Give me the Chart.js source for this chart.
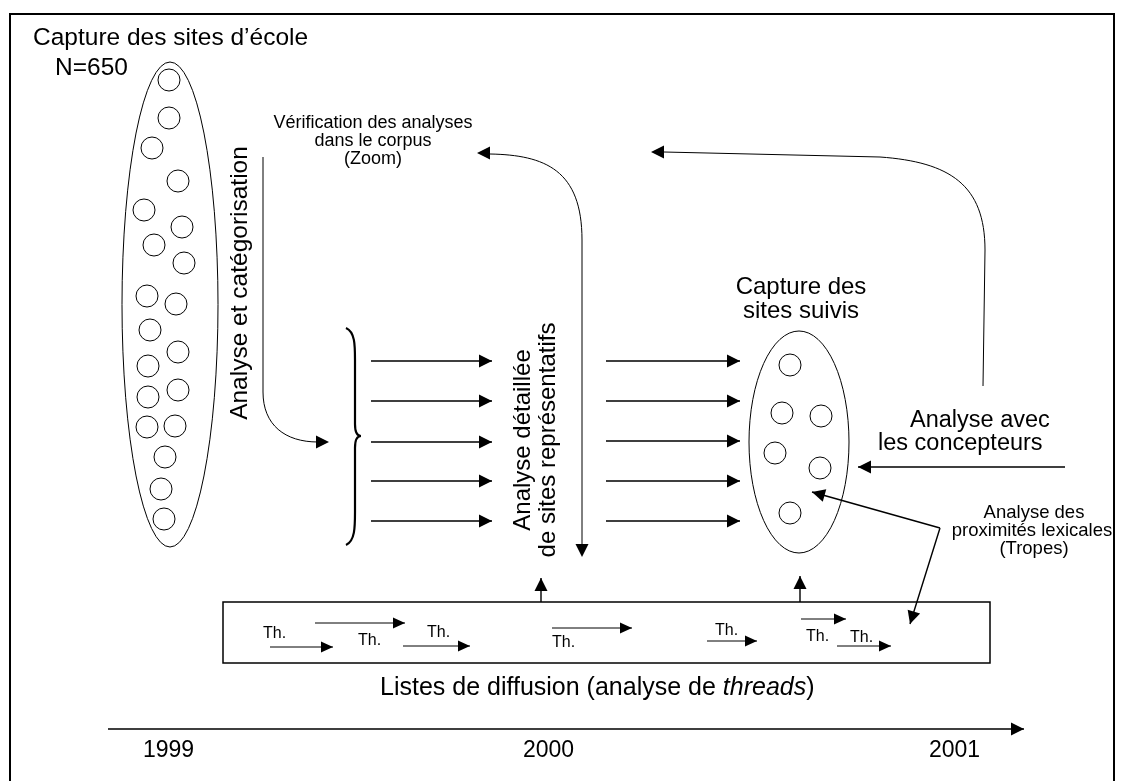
<!DOCTYPE html>
<html>
<head>
<meta charset="utf-8">
<script src="https://cdn.jsdelivr.net/npm/chart.js"></script>
<style>
  html, body { margin: 0; padding: 0; background: #fff; }
  #wrap { width: 1123px; height: 781px; }
</style>
</head>
<body>
<div id="wrap"><canvas id="myChart" width="1123" height="781"></canvas></div>
<script>
// sites d'école captured in 1999 (left ellipse)
const sites1999 = [
  [169, 80], [169, 118], [152, 148], [178, 181], [144, 210], [182, 227],
  [154, 245], [184, 263], [147, 296], [176, 304], [150, 330], [178, 352],
  [148, 366], [178, 390], [148, 397], [175, 426], [147, 427], [165, 457],
  [161, 489], [164, 519]
];
// sites suivis (right ellipse)
const sitesFollowed = [[790, 365], [782, 413], [821, 416], [775, 453], [820, 468], [790, 513]];

// rows of the parallel arrows, before / after the detailed analysis
const flowRowsIn = [361, 401, 442, 481, 521];
const flowRowsOut = [361, 401, 441, 481, 521];

// other straight arrows: [x1, y1, xTip, yTip]
const linkArrows = [
  [1065, 467, 858, 467],   // concepteurs -> sites suivis
  [541, 602, 541, 578],    // listes -> analyse détaillée
  [800, 602, 800, 576],    // listes -> sites suivis
  [940, 528, 812, 492],    // tropes -> sites suivis
  [940, 528, 910, 624]     // tropes -> listes
];
// threads inside the mailing list box
const threadArrows = [
  [270, 647, 333, 647], [315, 623, 405, 623], [403, 646, 470, 646],
  [552, 628, 632, 628], [707, 641, 757, 641], [801, 619, 846, 619],
  [837, 646, 891, 646]
];
const threadLabels = [[263, 638], [358, 645], [427, 637], [552, 647], [715, 635], [806, 641], [850, 642]];

// timeline
const timeline = [108, 729, 1024, 729];
const years = ['1999', '2000', '2001'];
const yearX = [143, 523, 929];

// curved links, path commands
const curvedLinks = [
  [['M', 263, 157], ['L', 263, 392], ['C', 263, 425, 285, 442, 318, 442]],
  [['M', 582, 545], ['L', 582, 240], ['C', 582, 170, 545, 155, 490, 154]],
  [['M', 983, 386], ['L', 985, 250], ['C', 985, 185, 950, 162, 880, 157], ['L', 664, 152]]
];
const curvedHeads = [[315, 442, 329, 442], [490, 153, 477, 153], [582, 543, 582, 557], [664, 152, 651, 152]];
const brace = [['M', 346, 328], ['C', 355, 332, 355, 345, 355, 360], ['L', 355, 424],
  ['C', 355, 432, 357, 436, 361, 436], ['C', 357, 436, 355, 440, 355, 448], ['L', 355, 512],
  ['C', 355, 527, 355, 541, 346, 545]];

// ellipses: [cx, cy, rx, ry]
const groups = [[170, 304.5, 48, 242.5], [799, 442, 50, 111]];
const box = [223, 602, 990, 663];
const frame = [10, 14, 1114, 790];

const FONT = '"Liberation Sans", Arial, sans-serif';

function toPts(arr) {
  return arr.map(p => ({ x: p[0], y: p[1] }));
}
function segments(list) {
  const out = [];
  list.forEach(s => {
    out.push({ x: s[0], y: s[1] }, { x: s[2], y: s[3] }, { x: null, y: null });
  });
  return out;
}

const flowArrows = flowRowsIn.map(y => [371, y, 492, y])
  .concat(flowRowsOut.map(y => [606, y, 740, y]));
const allArrows = flowArrows.concat(linkArrows, [timeline]);

const diagram = {
  id: 'diagram',
  afterDatasetsDraw(chart) {
    const ctx = chart.ctx;
    const sx = v => chart.scales.x.getPixelForValue(v);
    const sy = v => chart.scales.y.getPixelForValue(v);
    const kx = sx(1) - sx(0), ky = sy(1) - sy(0);

    function head(a, len, w) {
      const x1 = sx(a[0]), y1 = sy(a[1]), x2 = sx(a[2]), y2 = sy(a[3]);
      const t = Math.atan2(y2 - y1, x2 - x1);
      const c = Math.cos(t), s = Math.sin(t);
      ctx.beginPath();
      ctx.moveTo(x2, y2);
      ctx.lineTo(x2 - len * c + w * s, y2 - len * s - w * c);
      ctx.lineTo(x2 - len * c - w * s, y2 - len * s + w * c);
      ctx.closePath();
      ctx.fill();
    }
    function path(cmds) {
      ctx.beginPath();
      cmds.forEach(c => {
        if (c[0] === 'M') ctx.moveTo(sx(c[1]), sy(c[2]));
        else if (c[0] === 'L') ctx.lineTo(sx(c[1]), sy(c[2]));
        else ctx.bezierCurveTo(sx(c[1]), sy(c[2]), sx(c[3]), sy(c[4]), sx(c[5]), sy(c[6]));
      });
      ctx.stroke();
    }
    function text(str, x, y, size, align, rot) {
      ctx.save();
      ctx.font = size + 'px ' + FONT;
      ctx.textAlign = align || 'left';
      ctx.textBaseline = 'alphabetic';
      ctx.translate(sx(x), sy(y));
      if (rot) ctx.rotate(-Math.PI / 2);
      ctx.fillText(str, 0, 0);
      ctx.restore();
    }

    ctx.save();
    ctx.strokeStyle = '#000';
    ctx.fillStyle = '#000';

    // frame
    ctx.lineWidth = 2;
    ctx.strokeRect(sx(frame[0]), sy(frame[1]), sx(frame[2]) - sx(frame[0]), sy(frame[3]) - sy(frame[1]));
    // mailing list box
    ctx.lineWidth = 1.5;
    ctx.strokeRect(sx(box[0]), sy(box[1]), sx(box[2]) - sx(box[0]), sy(box[3]) - sy(box[1]));

    // ellipses
    ctx.lineWidth = 1;
    groups.forEach(g => {
      ctx.beginPath();
      ctx.ellipse(sx(g[0]), sy(g[1]), g[2] * kx, Math.abs(g[3] * ky), 0, 0, Math.PI * 2);
      ctx.stroke();
    });

    // curves + brace
    ctx.lineWidth = 1;
    curvedLinks.forEach(path);
    ctx.lineWidth = 2.2;
    path(brace);

    // arrow heads
    allArrows.forEach(a => head(a, 13, 6.5));
    curvedHeads.forEach(a => head(a, 13, 6.5));
    ctx.lineWidth = 1;
    threadArrows.forEach(a => {
      ctx.beginPath();
      ctx.moveTo(sx(a[0]), sy(a[1]));
      ctx.lineTo(sx(a[2]), sy(a[3]));
      ctx.stroke();
      head(a, 12, 5.5);
    });

    // labels
    text('Capture des sites d\u2019école', 33, 45, 24.5);
    text('N=650', 55, 75, 24.5);
    text('Analyse et catégorisation', 247, 283, 24.5, 'center', true);
    text('Analyse détaillée', 530, 440, 24, 'center', true);
    text('de sites représentatifs', 555, 440, 24, 'center', true);
    text('Vérification des analyses', 373, 128, 18, 'center');
    text('dans le corpus', 373, 146, 18, 'center');
    text('(Zoom)', 373, 164, 18, 'center');
    text('Capture des', 801, 294, 24, 'center');
    text('sites suivis', 801, 318, 24, 'center');
    text('Analyse avec', 910, 427, 23.5);
    text('les concepteurs', 878, 450, 23.5);
    text('Analyse des', 1034, 518, 18.5, 'center');
    text('proximités lexicales', 1032, 536, 18.5, 'center');
    text('(Tropes)', 1034, 554, 18.5, 'center');
    threadLabels.forEach(p => text('Th.', p[0], p[1], 16));
    years.forEach((y, i) => text(y, yearX[i], 757, 23));

    // caption with italic word
    ctx.font = '25px ' + FONT;
    ctx.textAlign = 'left';
    let cx = sx(380);
    const cy = sy(695);
    const p1 = 'Listes de diffusion (analyse de ';
    ctx.fillText(p1, cx, cy);
    cx += ctx.measureText(p1).width;
    ctx.font = 'italic 25px ' + FONT;
    ctx.fillText('threads', cx, cy);
    cx += ctx.measureText('threads').width;
    ctx.font = '25px ' + FONT;
    ctx.fillText(')', cx, cy);

    ctx.restore();
  }
};

const data = {
  datasets: [{
    label: 'Sites 1999',
    data: toPts(sites1999),
    pointRadius: 11,
    pointBackgroundColor: '#fff',
    pointBorderColor: '#000',
    pointBorderWidth: 1
  }, {
    label: 'Sites suivis',
    data: toPts(sitesFollowed),
    pointRadius: 11,
    pointBackgroundColor: '#fff',
    pointBorderColor: '#000',
    pointBorderWidth: 1
  }, {
    label: 'Flux',
    data: segments(allArrows),
    showLine: true,
    spanGaps: false,
    borderColor: '#000',
    borderWidth: 1.4,
    pointRadius: 0
  }]
};

const config = {
  type: 'scatter',
  data,
  options: {
    responsive: false,
    animation: false,
    devicePixelRatio: 1,
    events: [],
    layout: { padding: 0, autoPadding: false },
    plugins: {
      legend: { display: false },
      tooltip: { enabled: false }
    },
    scales: {
      x: { type: 'linear', min: 0, max: 1123, display: false },
      y: { type: 'linear', min: 0, max: 781, reverse: true, display: false }
    }
  },
  plugins: [diagram]
};

const myChart = new Chart(document.getElementById('myChart'), config);
</script>
</body>
</html>
